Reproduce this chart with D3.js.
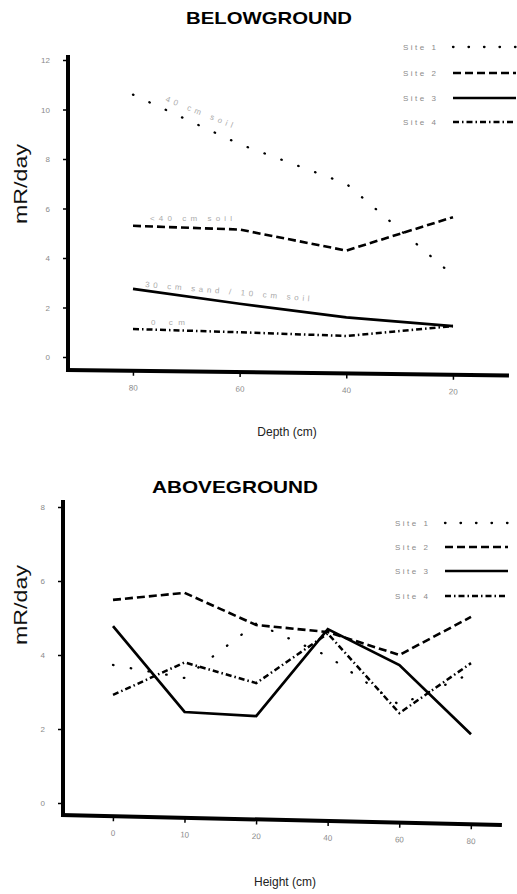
<!DOCTYPE html>
<html>
<head>
<meta charset="utf-8">
<style>
body { margin: 0; background: #fff; }
text { font-family: "Liberation Sans", Arial, sans-serif; }
.tick text { fill: #8a8a8a; font-size: 8px; }
.tick line { stroke: #000; stroke-width: 1.5px; }
.legend { fill: #8a8a8a; font-size: 8px; letter-spacing: 2.5px; }
.note { fill: #ababab; font-size: 8px; }
.spine { stroke: #000; stroke-width: 4px; fill: none; }
path.series { fill: none; stroke: #000; }
</style>
</head>
<body>
<script src="https://cdn.jsdelivr.net/npm/d3@7"></script>
<script>

// belowground, depth (cm)
var depths = [80, 60, 40, 20];
var below1 = [10.6, 8.6, 7.0, 3.3];
var below2 = [5.3, 5.15, 4.3, 5.65];
var below3 = [2.75, 2.15, 1.6, 1.25];
var below4 = [1.13, 1.0, 0.85, 1.25];
var belowTicks = [0, 2, 4, 6, 8, 10, 12];

// aboveground, height (cm)
var heights = ["0", "10", "20", "40", "60", "80"];
var above1 = [3.73, 3.38, 4.85, 3.97, 2.65, 3.5];
var above2 = [5.49, 5.68, 4.81, 4.62, 4.0, 5.03];
var above3 = [4.78, 2.46, 2.35, 4.7, 3.73, 1.86];
var above4 = [2.92, 3.8, 3.24, 4.58, 2.43, 3.78];
var aboveTicks = [0, 2, 4, 6, 8];

var siteNames = ["Site 1", "Site 2", "Site 3", "Site 4"];

var styles = [
  {w: 2.3, dash: "0.5,17.5", cap: "round"},
  {w: 2.6, dash: "8,4", cap: "butt"},
  {w: 2.7, dash: null, cap: "butt"},
  {w: 2.5, dash: "6,3,1.5,3", cap: "butt"}
];

var svg = d3.select("body").append("svg")
    .attr("width", 517)
    .attr("height", 894);

function drawPanel(opt) {
  var g = svg.append("g");

  // y axis
  var yAxis = g.append("g")
      .attr("transform", "translate(" + opt.axisX + ",0)")
      .call(d3.axisLeft(opt.y).tickValues(opt.yTicks).tickSize(5).tickPadding(13));
  yAxis.select(".domain").remove();

  g.append("line").attr("class", "spine")
      .attr("x1", opt.axisX).attr("x2", opt.axisX)
      .attr("y1", opt.top).attr("y2", opt.baseY + 2);

  // x axis, slightly tilted like the original plot
  var xg = g.append("g")
      .attr("transform", "translate(0," + opt.baseY + ") rotate(" + opt.tilt + "," + opt.axisX + ",0)");
  xg.call(opt.xAxis.tickSize(5).tickPadding(9).tickSizeOuter(0));
  xg.select(".domain").remove();
  xg.append("line").attr("class", "spine")
      .attr("x1", opt.axisX - 2).attr("x2", opt.right)
      .attr("y1", 0).attr("y2", 0);

  // series
  var line = d3.line()
      .x(function(d) { return opt.x(d[0]); })
      .y(function(d) { return opt.y(d[1]); });

  opt.series.forEach(function(vals, i) {
    var pts = opt.xs.map(function(k, j) { return [k, vals[j]]; });
    g.append("path")
        .attr("class", "series")
        .attr("d", line(pts))
        .style("stroke-width", styles[i].w)
        .style("stroke-linecap", styles[i].cap)
        .attr("stroke-dasharray", styles[i].dash);
  });

  // legend
  siteNames.forEach(function(name, i) {
    var ly = opt.legendY[i];
    g.append("text").attr("class", "legend")
        .attr("x", opt.legendX).attr("y", ly + 3)
        .text(name);
    g.append("line")
        .attr("x1", opt.legendX + 50).attr("x2", opt.legendX + 113)
        .attr("y1", ly).attr("y2", ly)
        .style("stroke", "#000")
        .style("stroke-width", styles[i].w)
        .style("stroke-linecap", styles[i].cap)
        .attr("stroke-dasharray", i == 0 ? "0.5,15" : styles[i].dash);
  });

  // titles
  g.append("text")
      .attr("x", opt.titleX).attr("y", opt.titleY)
      .attr("text-anchor", "middle")
      .style("font-size", "17px").style("font-weight", "bold")
      .attr("textLength", 166).attr("lengthAdjust", "spacingAndGlyphs")
      .text(opt.title);

  g.append("text")
      .attr("x", opt.xLabelX).attr("y", opt.xLabelY)
      .attr("text-anchor", "middle")
      .style("font-size", "12px").style("fill", "#222")
      .text(opt.xLabel);

  g.append("text")
      .attr("transform", "translate(27," + opt.yLabelY + ") rotate(-90)")
      .attr("text-anchor", "middle")
      .style("font-size", "19px").style("fill", "#111")
      .attr("textLength", 80).attr("lengthAdjust", "spacingAndGlyphs")
      .text("mR/day");

  return g;
}

// ---- BELOWGROUND ----
var xBelow = d3.scaleLinear().domain([80, 20]).range([133, 453]);
var yBelow = d3.scaleLinear().domain([0, 12]).range([357, 60]);

var belowG = drawPanel({
  x: xBelow, y: yBelow, xs: depths,
  xAxis: d3.axisBottom(xBelow).tickValues(depths),
  yTicks: belowTicks,
  series: [below1, below2, below3, below4],
  axisX: 68, top: 55, baseY: 370, right: 509, tilt: 0.7,
  legendX: 403, legendY: [47, 73, 98, 122],
  title: "BELOWGROUND", titleX: 269, titleY: 24,
  xLabel: "Depth (cm)", xLabelX: 287, xLabelY: 436,
  yLabelY: 184
});

// site notes in the belowground plot
function note(g, txt, x, y, ang, len) {
  g.append("text").attr("class", "note")
      .attr("transform", "translate(" + x + "," + y + ") rotate(" + ang + ")")
      .attr("textLength", len).attr("lengthAdjust", "spacing")
      .text(txt);
}
note(belowG, "40 cm soil", 165, 101, 22, 72);
note(belowG, "<40 cm soil", 150, 221, 0, 82);
note(belowG, "30 cm sand / 10 cm soil", 145, 287, 5, 165);
note(belowG, "0 cm", 151, 325, 0, 34);

// ---- ABOVEGROUND ----
var xAbove = d3.scalePoint().domain(heights).range([113, 471]);
var yAbove = d3.scaleLinear().domain([0, 8]).range([803, 507]);

drawPanel({
  x: xAbove, y: yAbove, xs: heights,
  xAxis: d3.axisBottom(xAbove),
  yTicks: aboveTicks,
  series: [above1, above2, above3, above4],
  axisX: 63, top: 500, baseY: 815, right: 502, tilt: 1.3,
  legendX: 395, legendY: [523, 547, 571, 596],
  title: "ABOVEGROUND", titleX: 235, titleY: 493,
  xLabel: "Height (cm)", xLabelX: 285, xLabelY: 886,
  yLabelY: 605
});

</script>
</body>
</html>
